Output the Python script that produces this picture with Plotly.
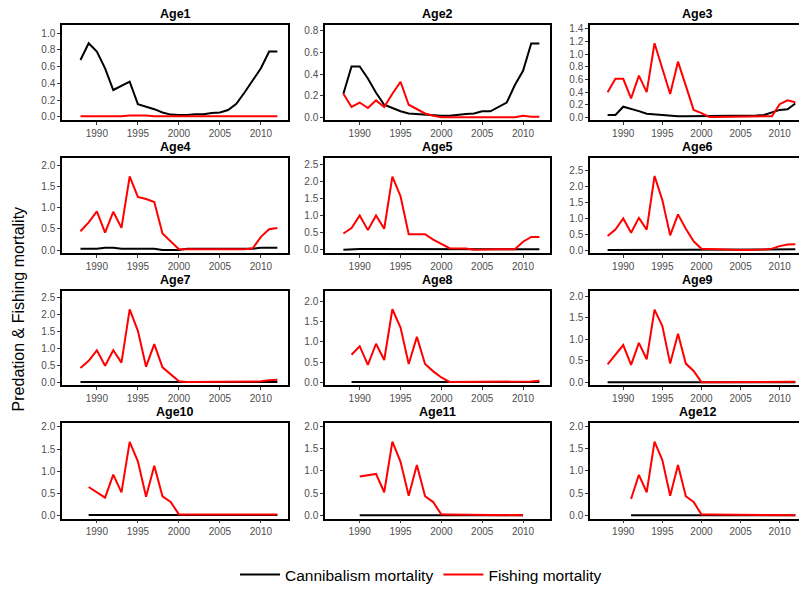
import plotly.graph_objects as go

# page body has an 8px margin, so the figure is drawn 8px smaller and all
# pixel positions below are in page coordinates minus 8
OFF = 8
W, H = 807 - OFF, 592 - OFF

# ---- data ----
ages = ["Age1", "Age2", "Age3", "Age4", "Age5", "Age6",
        "Age7", "Age8", "Age9", "Age10", "Age11", "Age12"]

years_88 = list(range(1988, 2013))
years_89 = list(range(1989, 2013))
years_90 = list(range(1990, 2011))
years_91 = list(range(1991, 2013))

cann_age1 = [0.68, 0.88, 0.78, 0.58, 0.32, 0.37, 0.42, 0.15, 0.12, 0.09, 0.05, 0.025, 0.02,
             0.02, 0.03, 0.03, 0.045, 0.05, 0.08, 0.155, 0.29, 0.43, 0.58, 0.78, 0.78]
fish_age1 = [0.005, 0.005, 0.005, 0.005, 0.005, 0.005, 0.015, 0.015, 0.015, 0.005, 0.005, 0.005, 0.005,
             0.005, 0.005, 0.005, 0.005, 0.005, 0.005, 0.005, 0.005, 0.005, 0.005, 0.005, 0.005]

cann_age2 = [0.22, 0.47, 0.47, 0.36, 0.23, 0.12, 0.09, 0.06, 0.04, 0.035, 0.03, 0.02, 0.02,
             0.02, 0.03, 0.035, 0.04, 0.06, 0.06, 0.1, 0.14, 0.3, 0.43, 0.68, 0.68]
fish_age2 = [0.22, 0.1, 0.14, 0.09, 0.16, 0.1, 0.22, 0.33, 0.12, 0.08, 0.04, 0.02, 0.005,
             0.005, 0.005, 0.005, 0.005, 0.005, 0.005, 0.005, 0.005, 0.005, 0.02, 0.01, 0.01]

cann_age3 = [0.04, 0.04, 0.17, 0.14, 0.1, 0.06, 0.05, 0.03, 0.02, 0.02, 0.02, 0.02, 0.02,
             0.02, 0.02, 0.02, 0.02, 0.03, 0.03, 0.03, 0.04, 0.08, 0.12, 0.13, 0.22]
fish_age3 = [0.4, 0.61, 0.61, 0.3, 0.66, 0.4, 1.17, 0.78, 0.37, 0.88, 0.49, 0.12, 0.07,
             0.01, 0.01, 0.01, 0.01, 0.01, 0.02, 0.02, 0.02, 0.02, 0.21, 0.27, 0.24]

cann_age4 = [0.03, 0.03, 0.03, 0.05, 0.05, 0.03, 0.03, 0.03, 0.03, 0.03, 0.0, 0.0, 0.0,
             0.03, 0.03, 0.03, 0.03, 0.03, 0.03, 0.03, 0.03, 0.03, 0.05, 0.05, 0.05]
fish_age4 = [0.44, 0.65, 0.91, 0.41, 0.9, 0.52, 1.73, 1.25, 1.2, 1.13, 0.39, 0.2, 0.02,
             0.02, 0.02, 0.02, 0.02, 0.02, 0.02, 0.02, 0.02, 0.04, 0.31, 0.49, 0.52]

cann_age5 = [0.01, 0.03, 0.03, 0.03, 0.03, 0.03, 0.03, 0.01, 0.01, 0.01, 0.01, 0.01, 0.01,
             0.01, 0.01, 0.01, 0.03, 0.03, 0.03, 0.02, 0.02, 0.02, 0.02, 0.02, 0.02]
fish_age5 = [0.48, 0.64, 1.01, 0.58, 1.01, 0.62, 2.14, 1.57, 0.46, 0.46, 0.46, 0.3, 0.17,
             0.05, 0.04, 0.04, 0.01, 0.02, 0.02, 0.02, 0.02, 0.02, 0.24, 0.38, 0.38]

cann_age6 = [0.01, 0.01, 0.01, 0.01, 0.01, 0.01, 0.01, 0.01, 0.01, 0.01, 0.01, 0.01, 0.01,
             0.01, 0.01, 0.01, 0.01, 0.01, 0.01, 0.01, 0.01, 0.01, 0.01, 0.03, 0.03]
fish_age6 = [0.45, 0.65, 1.0, 0.55, 1.02, 0.65, 2.34, 1.58, 0.47, 1.13, 0.68, 0.28, 0.05,
             0.04, 0.04, 0.01, 0.01, 0.01, 0.01, 0.01, 0.02, 0.05, 0.13, 0.18, 0.19]

cann_age7 = [0.01] * 25
fish_age7 = [0.42, 0.63, 0.94, 0.49, 0.94, 0.58, 2.14, 1.51, 0.46, 1.12, 0.44, 0.24, 0.03,
             0.01, 0.01, 0.01, 0.01, 0.01, 0.03, 0.03, 0.03, 0.03, 0.03, 0.06, 0.08]

cann_age8 = [0.01] * 24
fish_age8 = [0.68, 0.89, 0.43, 0.95, 0.55, 1.8, 1.35, 0.45, 1.12, 0.45, 0.27, 0.12,
             0.01, 0.01, 0.01, 0.01, 0.01, 0.01, 0.02, 0.02, 0.02, 0.02, 0.02, 0.04]

cann_age9 = [0.01] * 25
fish_age9 = [0.42, 0.64, 0.87, 0.41, 0.92, 0.54, 1.69, 1.31, 0.44, 1.13, 0.44, 0.27, 0.01,
             0.01, 0.01, 0.01, 0.01, 0.01, 0.01, 0.01, 0.02, 0.02, 0.02, 0.02, 0.02]

cann_age10 = [0.005] * 24
fish_age10 = [0.64, 0.51, 0.4, 0.92, 0.52, 1.66, 1.22, 0.42, 1.12, 0.43, 0.3, 0.02,
              0.02, 0.01, 0.01, 0.01, 0.02, 0.02, 0.02, 0.02, 0.02, 0.02, 0.02, 0.02]

cann_age11 = [0.005] * 21
fish_age11 = [0.87, 0.9, 0.93, 0.52, 1.65, 1.2, 0.44, 1.13, 0.43, 0.3, 0.02,
              0.02, 0.02, 0.005, 0.005, 0.005, 0.005, 0.02, 0.02, 0.02, 0.005]

cann_age12 = [0.005] * 22
fish_age12 = [0.37, 0.91, 0.52, 1.65, 1.24, 0.44, 1.13, 0.43, 0.3, 0.02,
              0.02, 0.02, 0.005, 0.005, 0.005, 0.02, 0.02, 0.02, 0.02, 0.005, 0.005, 0.005]

panel_years = [years_88] * 7 + [years_89, years_88, years_89, years_90, years_91]
cannibalism = [cann_age1, cann_age2, cann_age3, cann_age4, cann_age5, cann_age6,
               cann_age7, cann_age8, cann_age9, cann_age10, cann_age11, cann_age12]
fishing = [fish_age1, fish_age2, fish_age3, fish_age4, fish_age5, fish_age6,
           fish_age7, fish_age8, fish_age9, fish_age10, fish_age11, fish_age12]

# y ranges and tick steps per panel (free scales, as in the reference)
y_ranges = [[-0.04, 1.1], [-0.02, 0.85], [-0.04, 1.46], [-0.08, 2.16],
            [-0.1, 2.68], [-0.1, 2.9], [-0.07, 2.69], [-0.06, 2.26],
            [-0.05, 2.13], [-0.075, 2.09], [-0.07, 2.07], [-0.07, 2.07]]
y_dticks = [0.2, 0.2, 0.2, 0.5, 0.5, 0.5, 0.5, 0.5, 0.5, 0.5, 0.5, 0.5]

# ---- panel geometry in page pixels ----
col_px = [(62, 288), (325, 550), (590, 805.5)]
row_px = [(23, 119), (157.5, 253.5), (291, 386), (424.5, 521)]

FONT = "Liberation Sans, Arial"


def px_x(v):
    return (v - OFF) / W


def px_y(v):
    return 1 - (v - OFF) / H


fig = go.Figure()
layout = {}
annotations = []

for i, age in enumerate(ages):
    r, c = divmod(i, 3)
    n = i + 1
    xa = "x" if n == 1 else f"x{n}"
    ya = "y" if n == 1 else f"y{n}"
    x0, x1 = col_px[c]
    t0, t1 = row_px[r]

    fig.add_trace(go.Scatter(
        x=panel_years[i], y=cannibalism[i], mode="lines",
        line=dict(color="black", width=2),
        name="Cannibalism mortality", legendgroup="c",
        showlegend=(i == 0), xaxis=xa, yaxis=ya
    ))
    fig.add_trace(go.Scatter(
        x=panel_years[i], y=fishing[i], mode="lines",
        line=dict(color="#ff0000", width=2),
        name="Fishing mortality", legendgroup="f",
        showlegend=(i == 0), xaxis=xa, yaxis=ya
    ))

    axis_common = dict(
        showline=True, linecolor="black", linewidth=1.5, mirror=True,
        showgrid=False, zeroline=False,
        ticks="outside", ticklen=3, tickcolor="#333333", tickwidth=1,
        tickfont=dict(family=FONT, size=10, color="#4d4d4d"),
    )
    layout["xaxis" if n == 1 else f"xaxis{n}"] = dict(
        axis_common,
        domain=[px_x(x0), px_x(x1)],
        range=[1985.75, 2013.3],
        tickvals=[1990, 1995, 2000, 2005, 2010],
        anchor=ya,
    )
    layout["yaxis" if n == 1 else f"yaxis{n}"] = dict(
        axis_common,
        domain=[px_y(t1), px_y(t0)],
        range=y_ranges[i],
        tick0=0, dtick=y_dticks[i],
        tickformat=".1f",
        anchor=xa,
    )
    annotations.append(dict(
        text=f"<b>{age}</b>", x=px_x((x0 + x1) / 2), y=px_y(t0 - 2),
        xref="paper", yref="paper", xanchor="center", yanchor="bottom",
        showarrow=False,
        font=dict(family=FONT, size=12.5, color="black"),
    ))

annotations.append(dict(
    text="Predation & Fishing mortality", x=px_x(18), y=px_y(310),
    xref="paper", yref="paper", xanchor="center", yanchor="middle",
    textangle=-90, showarrow=False,
    font=dict(family=FONT, size=16, color="black"),
))

fig.update_layout(
    width=W, height=H,
    margin=dict(l=0, r=0, t=0, b=0),
    plot_bgcolor="white", paper_bgcolor="white",
    annotations=annotations,
    legend=dict(
        orientation="h", x=px_x(421), xanchor="center", y=px_y(578), yanchor="middle",
        font=dict(family=FONT, size=15.5, color="black"),
        itemwidth=40,
    ),
    **layout,
)

fig.write_html("out.html")
